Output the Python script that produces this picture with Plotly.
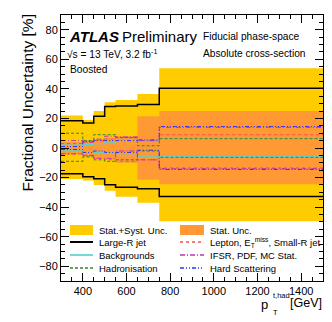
import plotly.graph_objects as go

# bin edges and uncertainties [%]
edges = [300, 350, 400, 450, 500, 550, 650, 750, 1500]
total_up = [22, 22, 19, 25, 31, 32.5, 36.5, 54]
total_dn = [-21, -21, -22, -25, -29, -33, -37, -49.5]
stat_up = [4, 4, 5, 6, 7, 8, 21.5, 25]
stat_dn = [-4, -4, -6, -7, -8, -10, -21.5, -24.5]
largeR_up = [18.5, 18.5, 17, 21.5, 28, 28.5, 29.5, 40.5]
largeR_dn = [-17.5, -17.5, -19.5, -20.8, -24.8, -26.5, -27.5, -32.8]
lepton_up = [3, 3, 4, 5, 6, 7, 5, 9]
lepton_dn = [-4, -4, -5, -7, -8, -9, -8, -13.5]
bkg_up = [2, 2, 2.5, 3, 3.5, 4.5, 5.5, 5.8]
bkg_dn = [-2, -2, -2.5, -3, -3.5, -5, -5.5, -5.8]
hadr_up = [10, 10, 5, 9, 9, 7, 1.5, 6.3]
hadr_dn = [-9, -9, -6, -8, -9, -8, -2, -6.3]
ifsr_up = [5, 5, 4, 6, 8, 7.5, 5, 14]
ifsr_dn = [-4, -4, -5, -7, -7, -2, -8, -14]
hard_up = [1, 1, 4.5, 5, 5, 5, 5.5, 14.5]
hard_dn = [-1, -1, -3, -2, -3, -3, -1.5, -14.5]

YELLOW = '#ffcc00'
ORANGE = '#ff9933'
FONT = 'Liberation Sans, Arial, sans-serif'

systs = [
    ('Large-R jet', largeR_up, largeR_dn, 'black', 'solid', 1.5),
    ('Lepton, E<sub>T</sub><sup>miss</sup>, Small-R jet', lepton_up, lepton_dn, '#ff4d4d', 'dot', 1),
    ('Backgrounds', bkg_up, bkg_dn, '#5fd0d0', 'solid', 1.2),
    ('IFSR, PDF, MC Stat.', ifsr_up, ifsr_dn, '#c030c0', '5px,2px,1px,2px', 1),
    ('Hadronisation', hadr_up, hadr_dn, '#2e8b2e', '3px,2px', 1),
    ('Hard Scattering', hard_up, hard_dn, '#3030ff', '4px,2px,1px,2px,1px,2px', 1),
]

def step(vals):
    return list(vals) + [vals[-1]]

fig = go.Figure()

# bands
for up, dn, col in [(total_up, total_dn, YELLOW), (stat_up, stat_dn, ORANGE)]:
    fig.add_trace(go.Scatter(x=edges, y=step(dn), mode='lines', line_shape='hv',
                             line=dict(width=0, color=col), showlegend=False, hoverinfo='skip'))
    fig.add_trace(go.Scatter(x=edges, y=step(up), mode='lines', line_shape='hv',
                             line=dict(width=0, color=col), fill='tonexty', fillcolor=col,
                             showlegend=False, hoverinfo='skip'))

# systematic lines
for name, up, dn, col, dash, w in systs:
    for vals in (up, dn):
        fig.add_trace(go.Scatter(x=edges, y=step(vals), mode='lines', line_shape='hv',
                                 line=dict(color=col, dash=dash, width=w), showlegend=False))

# pixel -> paper helpers (plot area 53..315 x 7..273)
def px(x):
    return (x - 53) / 262.0

def py(y):
    return (273 - y) / 266.0

ann = []
shapes = []

def text(t, x, y, size, xanchor='left', yanchor='middle', **kw):
    ann.append(dict(text=t, x=px(x), y=py(y), xref='paper', yref='paper', showarrow=False,
                    xanchor=xanchor, yanchor=yanchor, font=dict(family=FONT, size=size, color='black'), **kw))

# manual legend, two columns (row-major as in the reference)
legend_items = [
    ('box', 'Stat.+Syst. Unc.', YELLOW, None, None),
    ('box', 'Stat. Unc.', ORANGE, None, None),
]
for name, up, dn, col, dash, w in systs:
    legend_items.append(('line', name, col, dash, w))

rows = [222, 234, 247, 260]
cols = [(62, 85, 89), (172, 196, 200)]
for i, (kind, label, col, dash, w) in enumerate(legend_items):
    r, c = rows[i // 2], cols[i % 2]
    if kind == 'box':
        shapes.append(dict(type='rect', xref='paper', yref='paper', x0=px(c[0]), x1=px(c[1]),
                           y0=py(r + 5), y1=py(r - 5), fillcolor=col, line=dict(width=0)))
    else:
        shapes.append(dict(type='line', xref='paper', yref='paper', x0=px(c[0]), x1=px(c[1]),
                           y0=py(r), y1=py(r), line=dict(color=col, dash=dash, width=w + 0.5)))
    text(label, c[2], r, 9.5)

# labels
text('<b><i>ATLAS</i></b>', 59, 28, 15)
text('Preliminary', 112, 28, 15)
text('Fiducial phase-space', 193, 28, 10.2)
text('Absolute cross-section', 193, 46, 10.2)
text('√s = 13 TeV, 3.2 fb<sup>-1</sup>', 57, 46, 10.2)
text('Boosted', 60, 62, 10.2)

# axis titles
text('Fractional Uncertainty [%]', 19, 5, 15.5, xanchor='center', yanchor='top', textangle=-90)
text('[GeV]', 316, 295, 12.5, xanchor='right')
text('p', 262, 296, 13, xanchor='right')
text('t,had', 263, 287, 7.5)
text('T', 263, 304, 7.5)

axis_common = dict(showline=True, linecolor='black', linewidth=1, mirror='ticks', ticks='inside',
                   tickcolor='black', showgrid=False, zeroline=False,
                   tickfont=dict(family=FONT, size=11, color='black'))

fig.update_xaxes(range=[300, 1500], tickvals=[400, 600, 800, 1000, 1200, 1400], ticklen=8,
                 minor=dict(dtick=50, tick0=300, ticks='inside', ticklen=4, tickcolor='black'),
                 **axis_common)
fig.update_yaxes(range=[-90, 90], tick0=0, dtick=20, ticklen=8,
                 minor=dict(dtick=5, tick0=0, ticks='inside', ticklen=4, tickcolor='black'),
                 **axis_common)

fig.update_layout(width=332, height=322, margin=dict(l=53, r=17, t=7, b=49),
                  paper_bgcolor='white', plot_bgcolor='white', showlegend=False,
                  annotations=ann, shapes=shapes, font=dict(family=FONT))

fig.write_html("out.html")
